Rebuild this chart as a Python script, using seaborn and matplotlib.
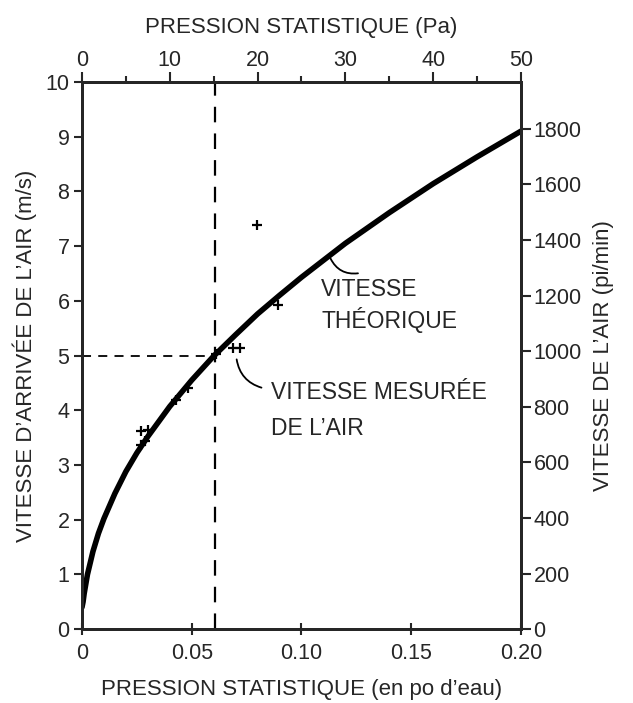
import matplotlib
matplotlib.use('Agg')
import matplotlib.pyplot as plt
import seaborn as sns
import pandas as pd

# courbe théorique (po d'eau -> m/s)
curve_p = [0, 0.0005, 0.001, 0.0025, 0.005, 0.0075, 0.01, 0.015, 0.02, 0.025, 0.03, 0.04, 0.05,
           0.06, 0.07, 0.08, 0.09, 0.10, 0.12, 0.14, 0.16, 0.18, 0.20]
curve_v = [0.40, 0.50, 0.65, 1.00, 1.42, 1.75, 2.02, 2.48, 2.88, 3.22, 3.52, 4.07, 4.55,
           4.99, 5.38, 5.76, 6.10, 6.43, 7.05, 7.61, 8.14, 8.63, 9.10]

# points mesurés
meas_p = [0.0271, 0.0302, 0.0286, 0.0271, 0.0427, 0.0485, 0.0612, 0.0688, 0.0720, 0.0797, 0.0895]
meas_v = [3.62, 3.64, 3.44, 3.36, 4.19, 4.40, 5.02, 5.13, 5.13, 7.38, 5.92]

# point de lecture (15 Pa -> 5 m/s)
ref_p = 0.0605
ref_v = 5.0

x_ticks = [0, 0.05, 0.10, 0.15, 0.20]
x_labels = ['0', '0.05', '0.10', '0.15', '0.20']
pa_ticks = [0, 10, 20, 30, 40, 50]
fpm_ticks = [0, 200, 400, 600, 800, 1000, 1200, 1400, 1600, 1800]

sns.set_style('ticks')
plt.rcParams['font.family'] = ['Liberation Sans', 'DejaVu Sans']

curve = pd.DataFrame({'p': curve_p, 'v': curve_v})
meas = pd.DataFrame({'p': meas_p, 'v': meas_v})

fig = plt.figure(figsize=(6.33, 7.03), dpi=100)
ax = fig.add_axes([0.1295, 0.105, 0.6935, 0.7785])

sns.lineplot(data=curve, x='p', y='v', ax=ax, color='black', linewidth=4)
sns.scatterplot(data=meas, x='p', y='v', ax=ax, marker='+', color='black', s=45,
                linewidth=1.6, zorder=5)

ax.plot([ref_p, ref_p], [0, 10], color='black', lw=1.6, dashes=(7, 5))
ax.plot([0, ref_p], [ref_v, ref_v], color='black', lw=1.3, dashes=(5, 4))

ax.set_xlim(0, 0.20)
ax.set_ylim(0, 10)
ax.set_xticks(x_ticks)
ax.set_xticklabels(x_labels)
ax.set_yticks(range(0, 11))
ax.tick_params(axis='both', labelsize=15.5, width=1.5, length=6, pad=3)
ax.tick_params(axis='x', direction='inout', length=8, pad=6)
ax.set_xlabel('PRESSION STATISTIQUE (en po d’eau)', fontsize=16, labelpad=11)
ax.set_ylabel('VITESSE D’ARRIVÉE DE L’AIR (m/s)', fontsize=16, labelpad=6)
for s in ax.spines.values():
    s.set_visible(True)
    s.set_linewidth(2)

# axe du haut en Pa
axt = ax.twiny()
axt.set_xlim(0, 50)
axt.set_xticks(pa_ticks)
axt.set_xticks([5, 15, 25, 35, 45], minor=True)
axt.tick_params(axis='x', labelsize=15.5, width=1.5, length=7, pad=1)
axt.tick_params(axis='x', which='minor', width=1.5, length=4)
axt.set_xlabel('PRESSION STATISTIQUE (Pa)', fontsize=16, labelpad=12)

# axe de droite en pi/min
axr = ax.twinx()
axr.set_ylim(0, 10 / 0.00508)
axr.set_yticks(fpm_ticks)
axr.tick_params(axis='y', labelsize=15.5, width=1.5, length=7, pad=2)
axr.set_ylabel('VITESSE DE L’AIR (pi/min)', fontsize=16, labelpad=8)
for a in (axt, axr):
    for s in a.spines.values():
        s.set_linewidth(2)

ax.text(0.109, 5.92, 'VITESSE\nTHÉORIQUE', fontsize=16.5, ha='left', va='center',
        linespacing=1.3)
ax.annotate('', xy=(0.1127, 6.82), xytext=(0.127, 6.51),
            arrowprops=dict(arrowstyle='-', color='black', lw=1.3,
                            connectionstyle='arc3,rad=-0.4'))
ax.text(0.0862, 4.0, 'VITESSE MESURÉE\nDE L’AIR', fontsize=16.5, ha='left', va='center',
        linespacing=1.7)
ax.annotate('', xy=(0.0703, 4.98), xytext=(0.083, 4.40),
            arrowprops=dict(arrowstyle='-', color='black', lw=1.3,
                            connectionstyle='arc3,rad=-0.35'))

fig.savefig('out.png', dpi=100)
